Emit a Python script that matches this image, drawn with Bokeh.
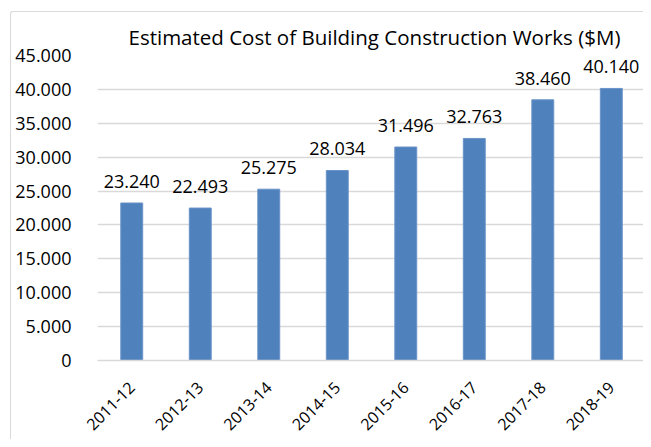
from bokeh.plotting import figure
from bokeh.models import (ColumnDataSource, SingleIntervalTicker, CustomJSTickFormatter, Range1d,
                          FixedTicker, LabelSet)
from bokeh.core.properties import value
from bokeh.embed import file_html
from bokeh.resources import INLINE
import math

years = ["2011-12", "2012-13", "2013-14", "2014-15", "2015-16", "2016-17", "2017-18", "2018-19"]
costs = [23240, 22493, 25275, 28034, 31496, 32763, 38460, 40140]
title_text = "Estimated Cost of Building Construction Works ($M)"

def fmt(v):
    return "{:,}".format(v).replace(",", ".")

xs = list(range(len(years)))
labels = [fmt(v) for v in costs]
src = ColumnDataSource(dict(x=xs, y=costs, label=labels))

FONT = "Open Sans"
p = figure(x_range=Range1d(-0.5, 7.47), y_range=Range1d(0, 45000), width=643, height=439,
           output_backend="svg", toolbar_location=None,
           min_border_left=97, min_border_right=0, min_border_top=55, min_border_bottom=79)
p.title.text = title_text
p.title.align = "left"
p.title.offset = 31
p.title.text_font = FONT
p.title.text_font_size = "20.5px"
p.title.text_font_style = "normal"
p.title.text_color = "#000000"
p.title.standoff = 10

p.vbar(x="x", top="y", width=0.32, source=src, fill_color="#4F81BD", line_color="#6A93C8", line_width=1)
p.add_layout(LabelSet(x="x", y="y", text="label", source=src, y_offset=15, text_align="center",
                      text_baseline="alphabetic", text_font=value(FONT), text_font_size="18px",
                      text_color="#000000"))

p.outline_line_color = None
p.xgrid.grid_line_color = None
p.ygrid.grid_line_color = "#d9d9d9"
p.ygrid.grid_line_width = 1.5

p.yaxis.ticker = SingleIntervalTicker(interval=5000)
p.yaxis.formatter = CustomJSTickFormatter(code="""
if (tick == 0) { return "0"; }
return (tick/1000).toFixed(3);
""")
p.yaxis.axis_line_color = None
p.yaxis.major_tick_line_color = None
p.yaxis.minor_tick_line_color = None
p.yaxis.major_label_standoff = 20
p.yaxis.major_label_text_font = FONT
p.yaxis.major_label_text_font_size = "18px"
p.yaxis.major_label_text_color = "#000000"

p.xaxis.ticker = FixedTicker(ticks=xs)
p.xaxis.major_label_overrides = {i: y for i, y in zip(xs, years)}
p.xaxis.axis_line_color = "#d9d9d9"
p.xaxis.axis_line_width = 1.5
p.xaxis.major_tick_line_color = None
p.xaxis.minor_tick_line_color = None
p.xaxis.major_label_orientation = math.pi / 4
p.xaxis.major_label_standoff = 18
p.xaxis.major_label_text_font = FONT
p.xaxis.major_label_text_font_size = "16px"
p.xaxis.major_label_text_color = "#000000"

p.stylesheets = [""":host::after {
  content: ""; position: absolute; left: 10px; top: 11px; right: 0px; bottom: 0px;
  border-left: 1.5px solid #d9d9d9; border-top: 1.5px solid #d9d9d9;
  border-top-left-radius: 3px; pointer-events: none; z-index: 10;
}"""]

open("out.html", "w").write(file_html(p, INLINE))
